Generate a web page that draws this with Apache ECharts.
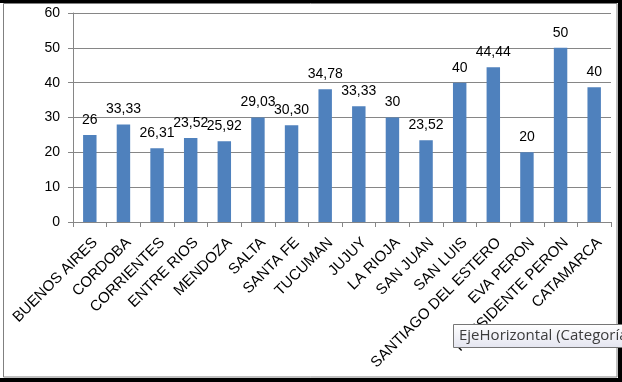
<!DOCTYPE html>
<html>
<head>
<meta charset="utf-8">
<script src="https://cdn.jsdelivr.net/npm/echarts@6/dist/echarts.min.js"></script>
<style>
  html, body { margin: 0; padding: 0; background: #fff; }
  #chart { width: 622px; height: 382px; }
</style>
</head>
<body>
<div id="chart"></div>
<script>
// provincias
const provincias = ['BUENOS AIRES', 'CORDOBA', 'CORRIENTES', 'ENTRE RIOS', 'MENDOZA', 'SALTA', 'SANTA FE',
  'TUCUMAN', 'JUJUY', 'LA RIOJA', 'SAN JUAN', 'SAN LUIS', 'SANTIAGO DEL ESTERO', 'EVA PERON',
  'PRESIDENTE PERON', 'CATAMARCA'];
// altura de las barras
const valores = [25, 28, 21.2, 24.1, 23.2, 30, 27.8, 38.1, 33.2, 30, 23.5, 40, 44.4, 20, 50, 38.7];
// etiquetas de datos tal como aparecen
const etiquetas = ['26', '33,33', '26,31', '23,52', '25,92', '29,03', '30,30', '34,78', '33,33', '30',
  '23,52', '40', '44,44', '20', '50', '40'];
const ticksY = [0, 10, 20, 30, 40, 50, 60];

const chart = echarts.init(document.getElementById('chart'));
const gris = '#868686';

const option = {
  animation: false,
  textStyle: { fontFamily: 'Liberation Sans, Arial, sans-serif' },
  grid: { left: 73, right: 11, top: 13, bottom: 160 },
  xAxis: {
    type: 'category',
    data: provincias,
    axisLine: { lineStyle: { color: gris } },
    axisTick: { show: true, length: 5, lineStyle: { color: gris } },
    axisLabel: { rotate: 45, color: '#000', fontSize: 15, margin: 13, interval: 0,
      align: 'right', verticalAlign: 'top' }
  },
  yAxis: {
    type: 'value',
    min: ticksY[0],
    max: ticksY[ticksY.length - 1],
    interval: 10,
    axisLine: { show: true, lineStyle: { color: gris } },
    axisTick: { show: true, length: 5, lineStyle: { color: gris } },
    axisLabel: { color: '#000', fontSize: 14, margin: 13 },
    splitLine: { lineStyle: { color: gris } }
  },
  series: [{
    type: 'bar',
    data: valores,
    barWidth: '40%',
    itemStyle: { color: '#4F81BD' },
    label: {
      show: true,
      position: 'top',
      distance: 8,
      color: '#000',
      fontSize: 14,
      formatter: p => etiquetas[p.dataIndex]
    }
  }],
  graphic: [
    { type: 'rect', z: 100, shape: { x: 3.5, y: 3.5, width: 613.5, height: 373.5 },
      style: { fill: null, stroke: '#808080', lineWidth: 1 } },
    { type: 'rect', z: 101, shape: { x: 0, y: 0, width: 622, height: 3 }, style: { fill: '#000' } },
    { type: 'rect', z: 101, shape: { x: 618, y: 0, width: 4, height: 382 }, style: { fill: '#000' } },
    { type: 'rect', z: 101, shape: { x: 0, y: 378, width: 622, height: 4 }, style: { fill: '#000' } },
    { type: 'rect', z: 110, shape: { x: 453.5, y: 324.5, width: 180, height: 23 },
      style: {
        fill: new echarts.graphic.LinearGradient(0, 0, 0, 1, [
          { offset: 0, color: '#ffffff' }, { offset: 1, color: '#e4e5f0' }
        ]),
        stroke: '#767676', lineWidth: 1
      } },
    { type: 'text', z: 111, x: 459, y: 336,
      style: { text: 'EjeHorizontal (Categoría', fill: '#3c3c3c', fontSize: 15,
        fontFamily: 'Open Sans', verticalAlign: 'middle' } }
  ]
};
chart.setOption(option);
</script>
</body>
</html>
